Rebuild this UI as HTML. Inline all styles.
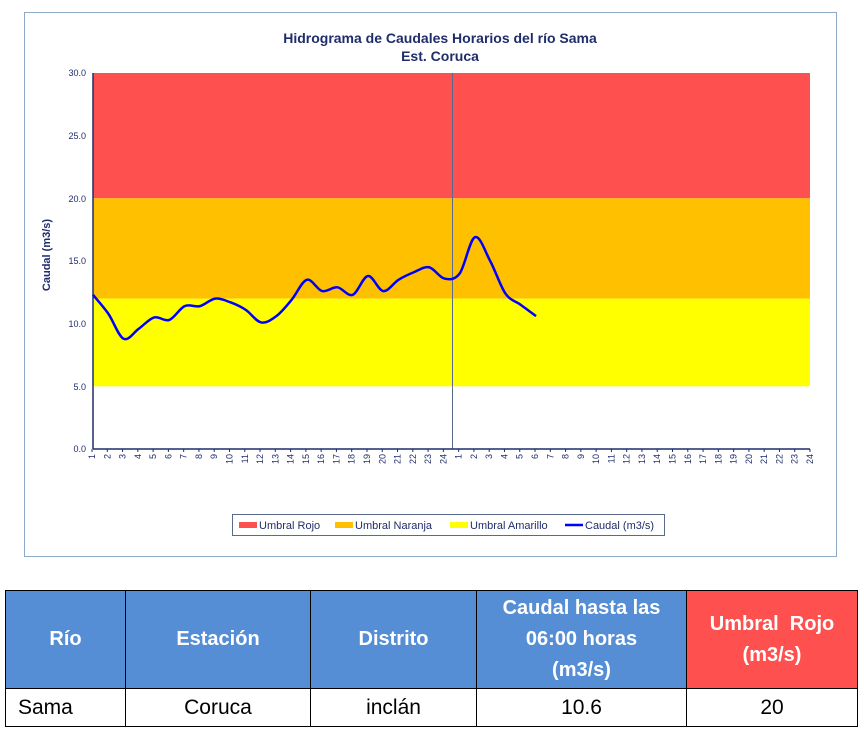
<!DOCTYPE html>
<html><head><meta charset="utf-8"><style>
body{margin:0;background:#fff;width:864px;height:733px;overflow:hidden;font-family:"Liberation Sans",sans-serif}
svg{position:absolute;left:0;top:0}
table{position:absolute;left:5px;top:590px;border-collapse:collapse;font-family:"Liberation Sans",sans-serif}
td{border:1.5px solid #000;text-align:center;padding:0}
.h td{background:#558ed5;color:#fff;font-weight:bold;font-size:20px;height:97px;line-height:31px}
.h td.r{background:#ff5050}
.d td{height:37px;font-size:21px}
</style></head><body>
<svg width="864" height="733" id="s">
<rect x="24.5" y="12.5" width="812" height="544" fill="#fff" stroke="#8ea9c8"/>
<text x="440" y="43" text-anchor="middle" font-size="14" font-weight="bold" fill="#1f2d6b">Hidrograma de Caudales Horarios del río Sama</text>
<text x="440" y="61" text-anchor="middle" font-size="14" font-weight="bold" fill="#1f2d6b">Est. Coruca</text>
<rect x="93" y="73" width="717" height="125.3" fill="#ff5050"/>
<rect x="93" y="198.3" width="717" height="100.3" fill="#ffc000"/>
<rect x="93" y="298.6" width="717" height="87.7" fill="#ffff00"/>
<line x1="452.5" y1="73" x2="452.5" y2="449" stroke="#5a6a8a" stroke-width="1"/>
<line x1="93" y1="73" x2="93" y2="449" stroke="#1f2d6b" stroke-width="1.5"/>
<line x1="93" y1="449" x2="810" y2="449" stroke="#1f2d6b" stroke-width="1.5"/>
<g font-size="9" fill="#1f2d6b" text-anchor="end">
<text x="86" y="76">30.0</text><text x="86" y="139">25.0</text><text x="86" y="202">20.0</text><text x="86" y="264">15.0</text><text x="86" y="327">10.0</text><text x="86" y="390">5.0</text><text x="86" y="452">0.0</text>
</g>
<text transform="translate(50,255) rotate(-90)" text-anchor="middle" font-size="11" font-weight="bold" fill="#1f2d6b">Caudal (m3/s)</text>
<g id="ticks" font-size="9" fill="#1f2d6b"></g>
<path id="curve" fill="none" stroke="#0000ff" stroke-width="2.5"/>
<rect x="232.5" y="514.5" width="432" height="21" fill="#fff" stroke="#5a6a8a"/>
<g font-size="11" fill="#1f2d6b">
<rect x="239" y="522" width="18" height="6" fill="#ff5050"/><text x="259" y="529">Umbral Rojo</text>
<rect x="335" y="522" width="18" height="6" fill="#ffc000"/><text x="355" y="529">Umbral Naranja</text>
<rect x="450" y="522" width="18" height="6" fill="#ffff00"/><text x="470" y="529">Umbral Amarillo</text>
<line x1="565" y1="525" x2="583" y2="525" stroke="#0000ff" stroke-width="2.5"/><text x="585" y="529">Caudal (m3/s)</text>
</g>
</svg>
<table>
<tr class="h"><td style="width:119px">Río</td><td style="width:184px">Estación</td><td style="width:165px">Distrito</td><td style="width:209px">Caudal hasta las<br>06:00 horas<br>(m3/s)</td><td class="r" style="width:170px">Umbral&nbsp; Rojo<br>(m3/s)</td></tr>
<tr class="d"><td style="text-align:left;padding-left:12px">Sama</td><td>Coruca</td><td>inclán</td><td>10.6</td><td>20</td></tr>
</table>
<script>
var ns="http://www.w3.org/2000/svg",g=document.getElementById("ticks");
var dx=(810-92)/47;
for(var i=0;i<48;i++){var x=92+dx*i;var t=document.createElementNS(ns,"text");
t.setAttribute("transform","translate("+(x+3)+",454) rotate(-90)");t.setAttribute("text-anchor","end");t.textContent=(i%24)+1;g.appendChild(t);
var l=document.createElementNS(ns,"line");l.setAttribute("x1",x);l.setAttribute("x2",x);l.setAttribute("y1",449);l.setAttribute("y2",452);l.setAttribute("stroke","#1f2d6b");g.appendChild(l);}
var v=[12.3,10.8,8.8,9.6,10.5,10.3,11.4,11.4,12.0,11.7,11.1,10.1,10.6,11.9,13.5,12.6,12.9,12.3,13.8,12.6,13.5,14.1,14.5,13.6,14.0,16.9,15.0,12.4,11.5,10.6];
var p=v.map(function(y,i){return [93+dx*i,449-y*376/30];});
var d="M"+p[0][0]+","+p[0][1];
for(var i=0;i<p.length-1;i++){var a=p[i-1]||p[i],b=p[i],c=p[i+1],e=p[i+2]||c;
d+=" C"+(b[0]+(c[0]-a[0])/6)+","+(b[1]+(c[1]-a[1])/6)+" "+(c[0]-(e[0]-b[0])/6)+","+(c[1]-(e[1]-b[1])/6)+" "+c[0]+","+c[1];}
document.getElementById("curve").setAttribute("d",d);
</script>
</body></html>
